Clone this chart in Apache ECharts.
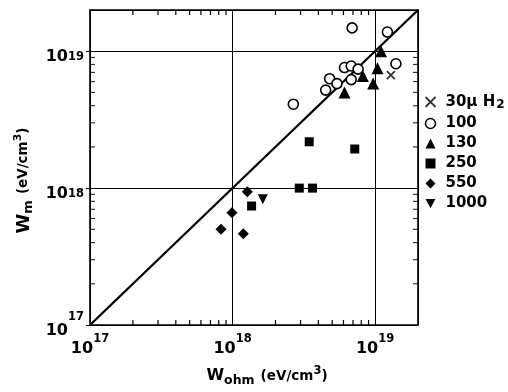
<!DOCTYPE html>
<html>
<head>
<meta charset="utf-8">
<script src="https://cdn.jsdelivr.net/npm/echarts@6/dist/echarts.min.js"></script>
<style>html,body{margin:0;padding:0;background:#fff;}#c{width:508px;height:392px;}</style>
</head>
<body>
<div id="c"></div>
<script>
// ---- data (W_ohm, W_m) in eV/cm^3 ----
const h2_30 = [[1.29e19, 6.7e18]];
const h2_100 = [[6.9e18, 1.48e19],[1.22e19, 1.38e19],[1.40e19, 8.1e18],[6.1e18, 7.6e18],[6.8e18, 7.8e18],[7.6e18, 7.4e18],[6.8e18, 6.2e18],[4.8e18, 6.3e18],[5.4e18, 5.8e18],[4.5e18, 5.2e18],[2.67e18, 4.1e18]];
const h2_130 = [[1.10e19, 1.0e19],[1.04e19, 7.5e18],[8.2e18, 6.6e18],[9.7e18, 5.8e18],[6.1e18, 5.0e18]];
const h2_250 = [[3.45e18, 2.18e18],[7.2e18, 1.93e18],[2.94e18, 1.0e18],[3.64e18, 1.0e18],[1.36e18, 7.4e17]];
const h2_550 = [[1.27e18, 9.4e17],[9.9e17, 6.6e17],[8.3e17, 5.0e17],[1.19e18, 4.65e17]];
const h2_1000 = [[1.63e18, 8.3e17]];
const diagonal = [[1e17, 1e17],[2e19, 2e19]];
const axisMin = 1e17, axisMax = 2e19;
const minorTicks = [2e17,3e17,4e17,5e17,6e17,7e17,8e17,9e17,2e18,3e18,4e18,5e18,6e18,7e18,8e18,9e18];

const FONT = 'DejaVu Sans';
const K = '#000';

function expOf(v){ return Math.round(Math.log10(v)); }

const chart = echarts.init(document.getElementById('c'), null, {renderer:'canvas'});

const triDown = 'path://M0,0L10,0L5,9Z';
const cross = 'path://M0,0L10,10M10,0L0,10';
const TL = 5;

function frameAxis(pos){
  return {
    type: 'log', logBase: 10, min: axisMin, max: axisMax, position: pos,
    axisLine: {show: true, onZero: false, lineStyle: {color: K, width: 1.6}},
    axisTick: {show: false}, axisLabel: {show: false}, splitLine: {show: false}
  };
}
function tickSeries(data, size, offset){
  return {type: 'scatter', data: data, symbol: 'rect', symbolSize: size, symbolOffset: offset,
    clip: false, itemStyle: {color: K}};
}

const option = {
  backgroundColor: '#fff',
  animation: false,
  grid: {left: 90, right: 90, top: 10, bottom: 65},
  legend: {
    orient: 'vertical', left: 418, top: 88,
    itemWidth: 10, itemHeight: 10, itemGap: 5,
    data: [
      {name: '30μ H2', icon: cross, itemStyle:{color:'none', borderColor:K, borderWidth:1.8}},
      {name: '100', icon: 'circle', itemStyle:{color:'#fff', borderColor:K, borderWidth:1.5}},
      {name: '130', icon: 'triangle'},
      {name: '250', icon: 'rect'},
      {name: '550', icon: 'diamond'},
      {name: '1000', icon: triDown}
    ],
    formatter: function(n){ return n === '30μ H2' ? '{t|30μ H}{sub|2}' : '{t|' + n + '}'; },
    textStyle: {
      color: K, fontFamily: FONT, fontWeight: 'bold', fontSize: 15, lineHeight: 15,
      rich: {
        t: {fontFamily: FONT, fontWeight:'bold', fontSize: 15, lineHeight: 15, color: K, padding:[0,0,0,5]},
        sub: {fontFamily: FONT, fontWeight:'bold', fontSize: 12, lineHeight: 15, color: K, padding:[6,0,0,1]}
      }
    }
  },
  xAxis: [{
    type: 'log', logBase: 10, min: axisMin, max: axisMax, position: 'bottom',
    axisLine: {show: true, onZero: false, lineStyle: {color: K, width: 1.6}},
    axisTick: {show: false},
    splitLine: {show: true, lineStyle: {color: K, width: 1}},
    axisLabel: {
      showMaxLabel: false, margin: 8, color: K,
      formatter: function(v){ return '{b|10}{s|' + expOf(v) + '}'; },
      rich: {
        b: {fontFamily: FONT, fontWeight: 'bold', fontSize: 16, lineHeight: 24, verticalAlign: 'bottom', color: K},
        s: {fontFamily: FONT, fontWeight: 'bold', fontSize: 11.5, lineHeight: 11, verticalAlign: 'top', color: K}
      }
    },
    name: '{w|W}{sb|ohm}{p|(eV/cm}{sp|3}{p|)}',
    nameLocation: 'middle', nameGap: 40,
    nameTextStyle: {
      padding: [0,0,0,26],
      rich: {
        w: {fontFamily: FONT, fontWeight:'bold', fontSize: 16, lineHeight: 22, verticalAlign:'middle', color: K},
        sb: {fontFamily: FONT, fontWeight:'bold', fontSize: 12.5, lineHeight: 12, verticalAlign:'bottom', color: K, padding:[0,6,0,0]},
        p: {fontFamily: FONT, fontWeight:'bold', fontSize: 13.5, lineHeight: 22, verticalAlign:'middle', color: K},
        sp: {fontFamily: FONT, fontWeight:'bold', fontSize: 11.5, lineHeight: 11, verticalAlign:'top', color: K}
      }
    }
  }, frameAxis('top')],
  yAxis: [{
    type: 'log', logBase: 10, min: axisMin, max: axisMax, position: 'left',
    axisLine: {show: true, onZero: false, lineStyle: {color: K, width: 1.6}},
    axisTick: {show: true, length: 4, lineStyle: {color: K, width: 1}},
    splitLine: {show: true, lineStyle: {color: K, width: 1}},
    axisLabel: {
      showMaxLabel: false, margin: 6, color: K,
      formatter: function(v){ const e = expOf(v); return e === 17 ? '{b0|10}{s0|17}' : '{b|10}{s|' + e + '}'; },
      rich: {
        b0: {fontFamily: FONT, fontWeight: 'bold', fontSize: 16, lineHeight: 28, verticalAlign: 'bottom', color: K},
        s0: {fontFamily: FONT, fontWeight: 'bold', fontSize: 11.5, lineHeight: 13, verticalAlign: 'top', color: K},
        b: {fontFamily: FONT, fontWeight: 'bold', fontSize: 16, lineHeight: 28, padding:[12,0,0,0], verticalAlign: 'top', color: K},
        s: {fontFamily: FONT, fontWeight: 'bold', fontSize: 11.5, lineHeight: 11, padding:[14,0,0,0], verticalAlign: 'top', color: K}
      }
    },
    name: '{w|W}{sb|m}{p|(eV/cm}{sp|3}{p|)}',
    nameLocation: 'middle', nameGap: 52,
    nameTextStyle: {
      padding: [0,26,0,0],
      rich: {
        w: {fontFamily: FONT, fontWeight:'bold', fontSize: 18, lineHeight: 22, verticalAlign:'middle', color: K},
        sb: {fontFamily: FONT, fontWeight:'bold', fontSize: 13, lineHeight: 12, verticalAlign:'bottom', color: K, padding:[0,6,0,0]},
        p: {fontFamily: FONT, fontWeight:'bold', fontSize: 13.5, lineHeight: 22, verticalAlign:'middle', color: K},
        sp: {fontFamily: FONT, fontWeight:'bold', fontSize: 11, lineHeight: 11, verticalAlign:'top', color: K}
      }
    }
  }, frameAxis('right')],
  series: [
    {
      type: 'line', name: 'diagonal', data: diagonal, symbol: 'none', silent: true, z: 4,
      lineStyle: {color: K, width: 2.3}
    },
    {type: 'scatter', name: '30μ H2', data: h2_30, symbol: cross, symbolSize: 8, z: 5,
      itemStyle: {color: 'none', borderColor: K, borderWidth: 1.8}},
    {type: 'scatter', name: '100', data: h2_100, symbol: 'circle', symbolSize: 10, z: 5,
      itemStyle: {color: '#fff', borderColor: K, borderWidth: 1.6, opacity: 1}},
    {type: 'scatter', name: '130', data: h2_130, symbol: 'triangle', symbolSize: 12, z: 5,
      itemStyle: {color: K, opacity: 1}},
    {type: 'scatter', name: '250', data: h2_250, symbol: 'rect', symbolSize: 9, z: 5,
      itemStyle: {color: K, opacity: 1}},
    {type: 'scatter', name: '550', data: h2_550, symbol: 'diamond', symbolSize: 11, z: 5,
      itemStyle: {color: K, opacity: 1}},
    {type: 'scatter', name: '1000', data: h2_1000, symbol: triDown, symbolSize: 10, z: 5,
      itemStyle: {color: K, opacity: 1}},
    // minor ticks (2..9 per decade): left and right sides
    tickSeries(minorTicks.map(function(v){ return [axisMin, v]; }), [TL, 1.2], [TL/2, 0]),
    tickSeries(minorTicks.map(function(v){ return [axisMax, v]; }), [TL, 1.2], [-TL/2, 0]),
    // minor ticks on bottom and top sides, x placed by the log x axis
    {
      type: 'custom', name: 'xMinorTicks',
      data: minorTicks.map(function(v){ return [v, 1e18]; }),
      renderItem: function(params, api){
        const x = api.coord([api.value(0), api.value(1)])[0];
        const cs = params.coordSys;
        const yb = cs.y + cs.height, yt = cs.y;
        return {type: 'group', children: [
          {type: 'rect', shape: {x: x - 0.6, y: yb - TL, width: 1.2, height: TL}, style: {fill: K}},
          {type: 'rect', shape: {x: x - 0.6, y: yt, width: 1.2, height: TL}, style: {fill: K}}
        ]};
      }
    }
  ]
};
chart.setOption(option);
</script>
</body>
</html>
